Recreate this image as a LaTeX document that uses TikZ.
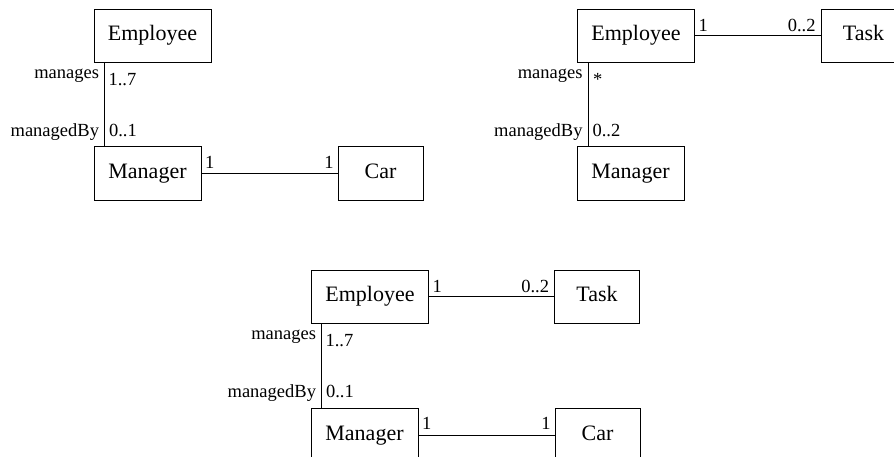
\documentclass[tikz,border=0pt]{standalone}
\usepackage{fontspec}
\setmainfont{Liberation Serif}
\begin{document}
\begin{tikzpicture}[x=1pt,y=-1pt,
  cls/.style={draw=black,line width=0.9pt,inner sep=0pt,outer sep=0pt,
    text height=15.5pt,text depth=5pt,font=\fontsize{22}{26}\selectfont},
  emp/.style={cls,minimum width=117pt,minimum height=53pt},
  mgr/.style={cls,minimum width=107pt,minimum height=54pt},
  small/.style={cls,minimum width=85pt,minimum height=54pt},
  lbl/.style={inner sep=0pt,outer sep=0pt,font=\fontsize{18.5}{22}\selectfont},
  assoc/.style={line width=0.9pt,draw=black}]
\useasboundingbox (0,0) rectangle (894,456);
\fill[white] (0,0) rectangle (894,456);
\clip (0,0) rectangle (894,456);

% ---------- Diagram 1 (top left) ----------
\node[emp] (E1) at (152.5,35.5) {Employee};
\node[mgr] (M1) at (147.5,173.5) {Manager};
\node[small] (C1) at (380.5,173.5) {Car};
\coordinate (v1t) at ([xshift=10.5pt]E1.south west);
\coordinate (v1b) at (v1t |- M1.north);
\draw[assoc] (v1t) -- (v1b);
\draw[assoc] (M1.east) -- (C1.west);
\node[lbl,anchor=base east] (a1) at ([xshift=-5.5pt,yshift=-16.5pt]v1t) {manages};
\node[lbl,anchor=base west] (b1) at ([xshift=4pt,yshift=-23pt]v1t) {1..7};
\node[lbl,anchor=base east] (c1) at ([xshift=-5.5pt,yshift=10.5pt]v1b) {managedBy};
\node[lbl,anchor=base west] (d1) at ([xshift=4.5pt,yshift=10.5pt]v1b) {0..1};
\node[lbl,anchor=base west] (e1) at ([xshift=4pt,yshift=5.5pt]M1.east) {1};
\node[lbl,anchor=base east] (f1) at ([xshift=-4.5pt,yshift=5.5pt]C1.west) {1};

% ---------- Diagram 2 (top right) ----------
\node[emp] (E2) at (636,35.5) {Employee};
\node[mgr] (M2) at (630.5,173.5) {Manager};
\node[small,minimum height=53pt] (T2) at (863.5,35.5) {Task};
\coordinate (v2t) at ([xshift=10.5pt]E2.south west);
\coordinate (v2b) at (v2t |- M2.north);
\draw[assoc] (v2t) -- (v2b);
\draw[assoc] (E2.east) -- (T2.west);
\node[lbl,anchor=base east] (a2) at ([xshift=-5.5pt,yshift=-16.5pt]v2t) {manages};
\node[lbl,anchor=base west] (b2) at ([xshift=5pt,yshift=-23pt]v2t) {*};
\node[lbl,anchor=base east] (c2) at ([xshift=-5.5pt,yshift=10.5pt]v2b) {managedBy};
\node[lbl,anchor=base west] (d2) at ([xshift=4.5pt,yshift=10.5pt]v2b) {0..2};
\node[lbl,anchor=base west] (e2) at ([xshift=4pt,yshift=4.5pt]E2.east) {1};
\node[lbl,anchor=base east] (f2) at ([xshift=-5.5pt,yshift=4.5pt]T2.west) {0..2};

% ---------- Diagram 3 (bottom) ----------
\node[emp] (E3) at (370,296.7) {Employee};
\node[mgr] (M3) at (364.5,435) {Manager};
\node[small,minimum height=53pt] (T3) at (597,296.7) {Task};
\node[small] (C3) at (597.5,435) {Car};
\coordinate (v3t) at ([xshift=10pt]E3.south west);
\coordinate (v3b) at (v3t |- M3.north);
\draw[assoc] (v3t) -- (v3b);
\draw[assoc] (E3.east) -- (T3.west);
\draw[assoc] (M3.east) -- (C3.west);
\node[lbl,anchor=base east] (a3) at ([xshift=-5.5pt,yshift=-16.5pt]v3t) {manages};
\node[lbl,anchor=base west] (b3) at ([xshift=4pt,yshift=-23pt]v3t) {1..7};
\node[lbl,anchor=base east] (c3) at ([xshift=-5.5pt,yshift=10.5pt]v3b) {managedBy};
\node[lbl,anchor=base west] (d3) at ([xshift=4.5pt,yshift=10.5pt]v3b) {0..1};
\node[lbl,anchor=base west] (e3) at ([xshift=4pt,yshift=4.5pt]E3.east) {1};
\node[lbl,anchor=base east] (f3) at ([xshift=-5.5pt,yshift=4.5pt]T3.west) {0..2};
\node[lbl,anchor=base west] (g3) at ([xshift=4pt,yshift=5.5pt]M3.east) {1};
\node[lbl,anchor=base east] (h3) at ([xshift=-4.5pt,yshift=5.5pt]C3.west) {1};
\end{tikzpicture}
\end{document}
